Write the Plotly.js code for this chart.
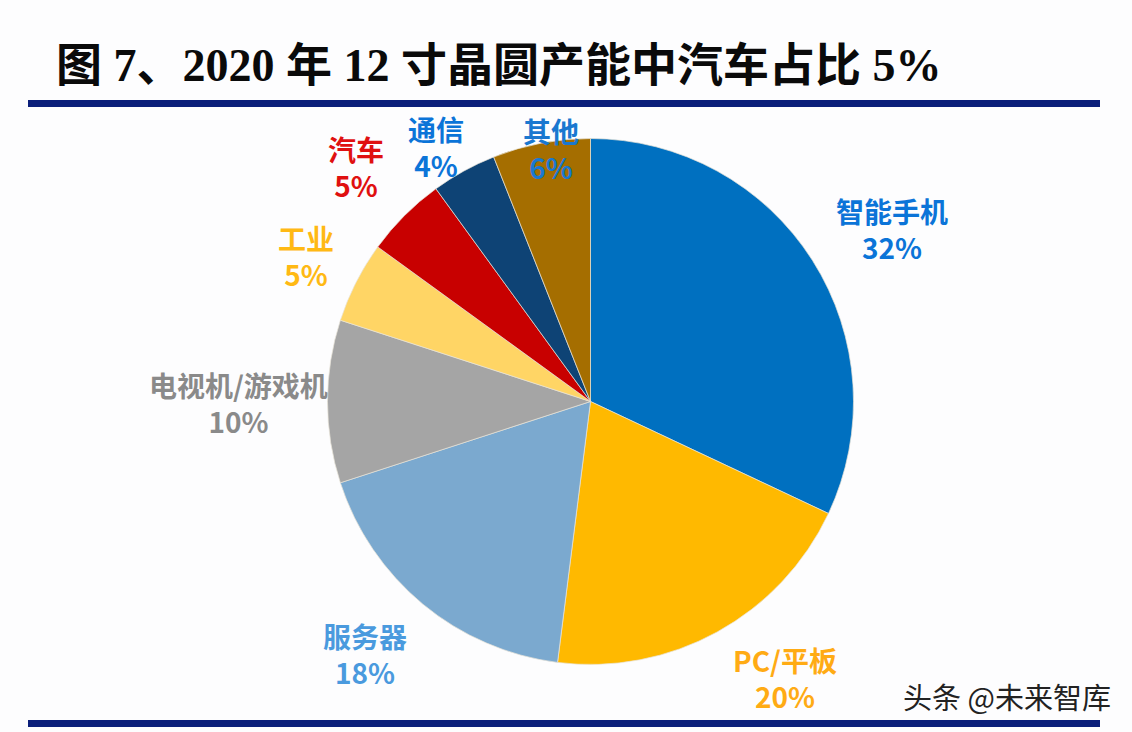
<!DOCTYPE html>
<html><head><meta charset="utf-8">
<script src="https://cdn.plot.ly/plotly-3.0.1.min.js"></script>
<style>html,body{margin:0;padding:0;background:#fdfdfe}</style></head>
<body><div id="c" style="width:1132px;height:732px"></div>
<script>
const categories = ['智能手机','PC/平板','服务器','电视机/游戏机','工业','汽车','通信','其他'];
const shares = [32,20,18,10,5,5,4,6];
const sliceColors = ['#0070C0','#FFB900','#7BA9CF','#A5A5A5','#FFD565','#C80000','#0E4375','#A56E00'];
const labelColors = ['#0B74D8','#FFAB14','#4A9ADE','#8A8A8A','#FFB914','#E01010','#0B74D8','#1A78D0'];
const labelX = [892,785,365,238,306,356,436,551];
const labelY = [229,678,654,403,256,167,147,149];
const W = 1132, H = 732, CX = 590.5, CY = 401.5, R = 263;
const cjk = '"Noto Sans CJK SC", sans-serif';
const titleText = '图 7、2020 年 12 寸晶圆产能中汽车占比 5%';
const annotations = categories.map((c,i)=>({
  xref:'paper',yref:'paper',x:labelX[i]/W,y:1-labelY[i]/H,
  xanchor:'center',yanchor:'middle',showarrow:false,align:'center',
  text:'<b>'+c+'<br>'+shares[i]+'%</b>',
  font:{family:cjk,size:28,color:labelColors[i]}
}));
annotations.push({
  xref:'paper',yref:'paper',x:54/W,y:1-65/H,xanchor:'left',yanchor:'middle',showarrow:false,
  text:'<b>'+titleText+'</b>',
  font:{family:'"Liberation Serif", "Noto Sans CJK SC", serif',size:46,color:'#0a0a0a'}
});
annotations.push({
  xref:'paper',yref:'paper',x:1007/W,y:1-696/H,xanchor:'center',yanchor:'middle',showarrow:false,
  text:'头条 @未来智库',
  font:{family:cjk,size:29,color:'#222222'}
});
const rule = (y,t)=>({type:'line',xref:'paper',yref:'paper',x0:28/W,x1:1100/W,y0:1-y/H,y1:1-y/H,
  line:{color:'#0B1F7A',width:t}});
Plotly.newPlot('c',[{
  type:'pie',labels:categories,values:shares,sort:false,direction:'clockwise',rotation:0,
  marker:{colors:sliceColors,line:{color:'#E8E4D8',width:0.7}},
  textinfo:'none',hoverinfo:'label+percent',showlegend:false,
  domain:{x:[(CX-R)/W,(CX+R)/W],y:[1-(CY+R)/H,1-(CY-R)/H]}
}],{
  width:W,height:H,margin:{l:0,r:0,t:0,b:0},
  paper_bgcolor:'#FDFDFE',plot_bgcolor:'#FDFDFE',showlegend:false,
  annotations:annotations,shapes:[rule(103.5,7),rule(723.5,7)]
},{displayModeBar:false});
</script></body></html>
